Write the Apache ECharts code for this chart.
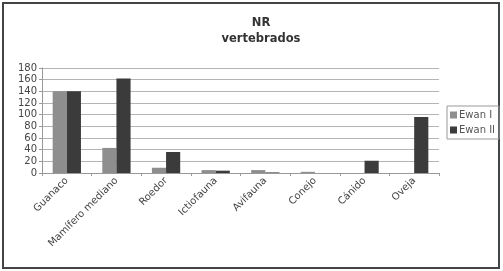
<!DOCTYPE html>
<html>
<head>
<meta charset="utf-8">
<script src="https://cdn.jsdelivr.net/npm/echarts@6/dist/echarts.min.js"></script>
<style>
  body { margin: 0; background: #fff; }
  #main-chart { width: 503px; height: 271px; }
</style>
</head>
<body>
<div id="main-chart"></div>
<script>
var categories = ['Guanaco', 'Mamífero mediano', 'Roedor', 'Ictiofauna', 'Avifauna', 'Conejo', 'Cánido', 'Oveja'];
var ewanI = [140, 43, 9, 5, 5, 2, 0, 0];
var ewanII = [140, 162, 36, 4, 1, 0, 21, 96];
var yTicks = [0, 20, 40, 60, 80, 100, 120, 140, 160, 180];

var mainChart;

window.onload = function () {
    chartInit();
};

function chartInit() {
    mainChart = echarts.init(document.getElementById('main-chart'));

    var mainOpt = {
        animation: false,
        textStyle: { fontFamily: 'DejaVu Sans' },
        title: {
            text: 'NR\nvertebrados',
            left: 256,
            textAlign: 'center',
            top: 10,
            textStyle: { fontSize: 11.5, fontWeight: 'bold', color: '#333', lineHeight: 16 }
        },
        graphic: [{
            type: 'rect',
            shape: { x: 3, y: 3, width: 496, height: 265 },
            style: { fill: null, stroke: '#444', lineWidth: 2 }
        }],
        legend: {
            orient: 'vertical',
            left: 447,
            top: 106,
            itemWidth: 7,
            itemHeight: 7,
            itemGap: 5,
            padding: [4, 4, 4, 3],
            borderColor: '#999',
            borderWidth: 1,
            icon: 'rect',
            textStyle: { fontSize: 10, color: '#555', padding: [0, 0, 0, -3] }
        },
        grid: { left: 42, right: 64, top: 68, bottom: 98 },
        xAxis: {
            type: 'category',
            data: categories,
            axisLine: { lineStyle: { color: '#999' } },
            axisTick: { show: true, length: 3, lineStyle: { color: '#999' } },
            axisLabel: { rotate: 45, fontSize: 10, color: '#444', margin: 6, interval: 0 }
        },
        yAxis: {
            type: 'value',
            min: yTicks[0],
            max: yTicks[yTicks.length - 1],
            interval: 20,
            axisLine: { show: true, lineStyle: { color: '#999' } },
            axisTick: { show: true, length: 3, lineStyle: { color: '#999' } },
            axisLabel: { fontSize: 10, color: '#444', margin: 5 },
            splitLine: { lineStyle: { color: '#b4b4b4' } }
        },
        series: [{
            name: 'Ewan I',
            type: 'bar',
            data: ewanI,
            barGap: '0%',
            barCategoryGap: '43%',
            itemStyle: { color: '#8e8e8e' }
        }, {
            name: 'Ewan II',
            type: 'bar',
            data: ewanII,
            itemStyle: { color: '#3b3b3b' }
        }]
    };

    mainChart.setOption(mainOpt);
}
</script>
</body>
</html>
